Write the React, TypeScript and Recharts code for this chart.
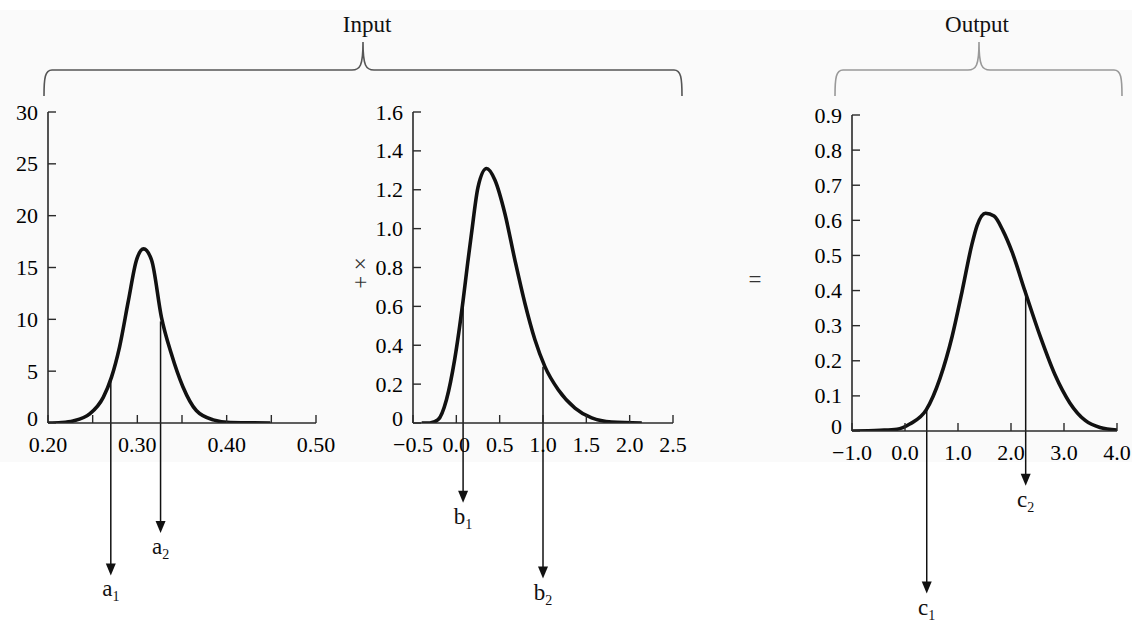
import React from 'react';
import { LineChart, Line, XAxis, YAxis, ReferenceLine } from 'recharts';

const SERIF = '"Liberation Serif", "Times New Roman", serif';
const AXIS = '#2a2a2a';
const INK = '#111';

// first input distribution (narrow peak near 0.31)
const inAX = [0.2, 0.215, 0.228, 0.247, 0.262, 0.271, 0.28, 0.29, 0.299, 0.307, 0.316, 0.327, 0.338, 0.351, 0.366, 0.385, 0.404, 0.449];
const inAY = [0, 0.05, 0.2, 0.9, 2.5, 4.4, 7.3, 11.8, 15.7, 16.8, 15.7, 10.2, 6.7, 3.5, 1.2, 0.3, 0.05, 0];
const inAXTicks = [0.2, 0.25, 0.3, 0.35, 0.4, 0.45, 0.5];
const inAYTicks = [0, 5, 10, 15, 20, 25, 30];

// second input distribution (skewed, peak near 0.35)
const inBX = [-0.4, -0.307, -0.211, -0.114, -0.018, 0.078, 0.13, 0.175, 0.251, 0.349, 0.445, 0.56, 0.676, 0.791, 0.907, 1.022, 1.176, 1.369, 1.562, 1.794, 2.14];
const inBY = [0, 0, 0.017, 0.12, 0.33, 0.63, 0.82, 0.975, 1.215, 1.309, 1.25, 1.078, 0.838, 0.616, 0.428, 0.29, 0.171, 0.077, 0.026, 0.005, 0];
const inBXTicks = [-0.5, 0, 0.5, 1, 1.5, 2, 2.5];
const inBYTicks = [0, 0.2, 0.4, 0.6, 0.8, 1.0, 1.2, 1.4, 1.6];

// output distribution
const outX = [-1, -0.47, -0.15, 0.09, 0.4, 0.66, 0.89, 1.08, 1.26, 1.36, 1.52, 1.68, 1.85, 2.02, 2.26, 2.55, 2.83, 3.11, 3.4, 3.68, 4];
const outY = [0, 0.002, 0.005, 0.02, 0.06, 0.15, 0.27, 0.4, 0.53, 0.585, 0.62, 0.612, 0.57, 0.51, 0.4, 0.27, 0.16, 0.08, 0.03, 0.01, 0.003];
const outXTicks = [-1, 0, 1, 2, 3, 4];
const outYTicks = [0, 0.1, 0.2, 0.3, 0.4, 0.5, 0.6, 0.7, 0.8, 0.9];

// interval markers: letter, index, x value, curve value, arrow tip value
const inAMarks = [
  { name: 'a', sub: '1', x: 0.2703, from: 4.4, to: -14.7 },
  { name: 'a', sub: '2', x: 0.326, from: 9.8, to: -10.6 },
];
const inBMarks = [
  { name: 'b', sub: '1', x: 0.078, from: 0.6, to: -0.41 },
  { name: 'b', sub: '2', x: 1.0, from: 0.29, to: -0.8 },
];
const outMarks = [
  { name: 'c', sub: '1', x: 0.41, from: 0.06, to: -0.463 },
  { name: 'c', sub: '2', x: 2.277, from: 0.4, to: -0.156 },
];

const rows = (xs: number[], ys: number[]) => xs.map((x, i) => ({ x, y: ys[i] }));

const tickStyle = { fontSize: 22, fill: '#000', fontFamily: SERIF };
const minus = (s: string) => s.replace('-', '\u2212');

// y tick label; the zero label sits a little above the corner like the original
const yTick = (fmt: (v: number) => string) => (p: any) => {
  const { x, y, payload } = p;
  const v = payload.value as number;
  return (
    <text x={x} y={v === 0 ? y - 5 : y} textAnchor="end" dominantBaseline="central" fontSize={22} fill="#000" fontFamily={SERIF}>
      {fmt(v)}
    </text>
  );
};

const arrowShape = (m: { name: string; sub: string }) => (p: any) => {
  const { x1, y1, x2, y2 } = p;
  return (
    <g>
      <line x1={x1} y1={y1} x2={x2} y2={y2 - 6} stroke={INK} strokeWidth={1.5} />
      <polygon points={`${x2 - 5},${y2 - 12} ${x2 + 5},${y2 - 12} ${x2},${y2}`} fill={INK} />
      <text x={x2} y={y2 + 21} textAnchor="middle" fontFamily={SERIF} fontSize={23} fill={INK}>
        {m.name}
        <tspan fontSize={14} dy={5}>{m.sub}</tspan>
      </text>
    </g>
  );
};

type PanelProps = {
  left: number;
  width: number;
  margin: { top: number; right: number; bottom: number; left: number };
  data: { x: number; y: number }[];
  xDomain: [number, number];
  xTicks: number[];
  xFmt: (v: number) => string;
  yDomain: [number, number];
  yTicks: number[];
  yFmt: (v: number) => string;
  marks: { name: string; sub: string; x: number; from: number; to: number }[];
};

function Panel(props: PanelProps) {
  const { left, width, margin, data, xDomain, xTicks, xFmt, yDomain, yTicks, yFmt, marks } = props;
  const axisLine = { stroke: AXIS, strokeWidth: 1.6 };
  return (
    <div style={{ position: 'absolute', left, top: 0 }}>
      <LineChart width={width} height={632} data={data} margin={margin} style={{ overflow: 'visible' }}>
        <XAxis
          type="number"
          dataKey="x"
          domain={xDomain}
          ticks={xTicks}
          interval={0}
          tickFormatter={xFmt}
          tickSize={-8}
          tickMargin={21}
          height={30}
          axisLine={axisLine}
          tickLine={{ stroke: AXIS, strokeWidth: 1.4 }}
          tick={tickStyle}
          allowDataOverflow
        />
        <XAxis xAxisId="top" orientation="top" type="number" domain={xDomain} height={0} tick={false} tickLine={false} axisLine={axisLine} />
        <YAxis
          type="number"
          domain={yDomain}
          ticks={yTicks}
          interval={0}
          tickSize={-8}
          tickMargin={18}
          width={40}
          axisLine={axisLine}
          tickLine={{ stroke: AXIS, strokeWidth: 1.4 }}
          tick={yTick(yFmt)}
          allowDataOverflow
        />
        <YAxis yAxisId="right" orientation="right" type="number" domain={yDomain} width={0} tick={false} tickLine={false} axisLine={axisLine} />
        <Line type="monotone" dataKey="y" stroke={INK} strokeWidth={3.6} dot={false} isAnimationActive={false} />
        {marks.map((m) => (
          <ReferenceLine
            key={m.name + m.sub}
            segment={[{ x: m.x, y: m.from }, { x: m.x, y: m.to }]}
            ifOverflow="visible"
            shape={arrowShape(m)}
          />
        ))}
      </LineChart>
    </div>
  );
}

export default function App() {
  return (
    <div style={{ position: 'absolute', left: 0, top: 0, width: 1135, height: 632, background: '#fff', fontFamily: SERIF, overflow: 'hidden' }}>
      <div style={{ position: 'absolute', left: 0, top: 10, width: 1132, height: 452, background: '#fafafa' }} />
      <svg width={1135} height={632} style={{ position: 'absolute', left: 0, top: 0 }}>
        <path d="M44,96 C44,78 45,70 52,70 L352,70 C360,70 363,66 363,42 C363,66 366,70 374,70 L674,70 C681,70 682,78 682,96" fill="none" stroke="#555" strokeWidth={1.6} />
        <path d="M835,96 C835,78 836,70 843,70 L968,70 C976,70 979,66 979,42 C979,66 982,70 990,70 L1114,70 C1121,70 1122,78 1122,96" fill="none" stroke="#999" strokeWidth={1.6} />
        <text x={367} y={32} textAnchor="middle" fontSize={23} fill={INK}>Input</text>
        <text x={977} y={32} textAnchor="middle" fontSize={23} fill={INK}>Output</text>
        <text x={363} y={273} textAnchor="middle" dominantBaseline="middle" fontSize={23} fill="#333" transform="rotate(-90 363 273)">+ ×</text>
        <text x={755} y={282} textAnchor="middle" dominantBaseline="middle" fontSize={23} fill="#333">=</text>
      </svg>
      <Panel
        left={0}
        width={340}
        margin={{ top: 112, right: 24, bottom: 179, left: 8 }}
        data={rows(inAX, inAY)}
        xDomain={[0.2, 0.5]}
        xTicks={inAXTicks}
        xFmt={(v) => (Math.round(v * 100) % 10 === 0 ? v.toFixed(2) : '')}
        yDomain={[0, 30]}
        yTicks={inAYTicks}
        yFmt={(v) => String(v)}
        marks={inAMarks}
      />
      <Panel
        left={360}
        width={340}
        margin={{ top: 112, right: 27, bottom: 179, left: 13 }}
        data={rows(inBX, inBY)}
        xDomain={[-0.5, 2.5]}
        xTicks={inBXTicks}
        xFmt={(v) => minus(v.toFixed(1))}
        yDomain={[0, 1.6]}
        yTicks={inBYTicks}
        yFmt={(v) => (v === 0 ? '0' : v.toFixed(1))}
        marks={inBMarks}
      />
      <Panel
        left={790}
        width={345}
        margin={{ top: 115, right: 18, bottom: 171, left: 22 }}
        data={rows(outX, outY)}
        xDomain={[-1, 4]}
        xTicks={outXTicks}
        xFmt={(v) => minus(v.toFixed(1))}
        yDomain={[0, 0.9]}
        yTicks={outYTicks}
        yFmt={(v) => (v === 0 ? '0' : v.toFixed(1))}
        marks={outMarks}
      />
    </div>
  );
}
